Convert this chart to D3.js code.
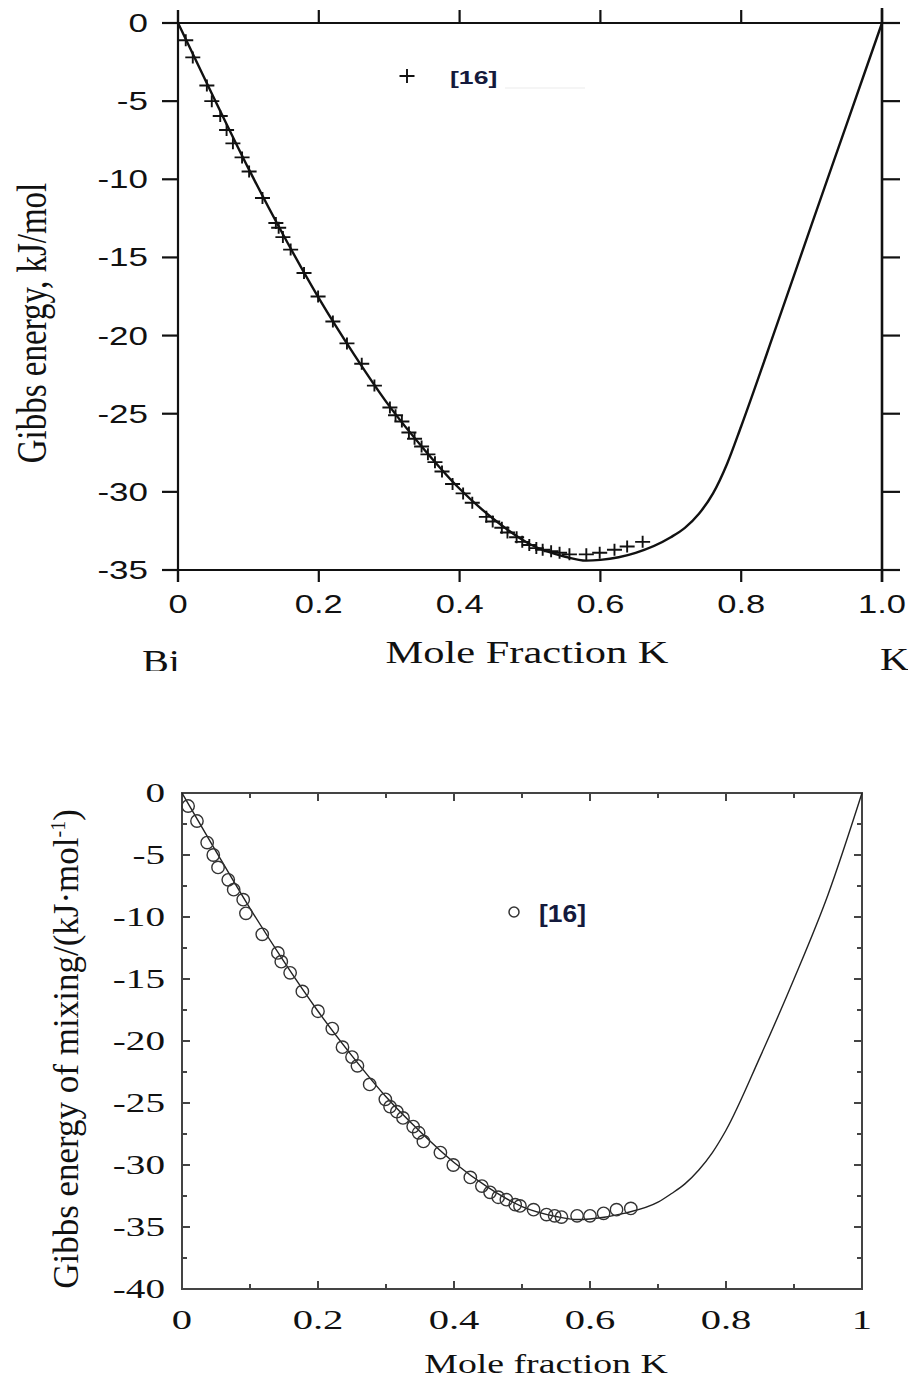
<!DOCTYPE html>
<html>
<head>
<meta charset="utf-8">
<script src="https://cdn.jsdelivr.net/npm/d3@7"></script>
<style>
  html, body { margin: 0; padding: 0; background: #fff; }
  svg { display: block; }
</style>
</head>
<body>
<svg id="fig" width="908" height="1379"></svg>
<script>
// ---- Bi–K liquid: integral Gibbs energy of mixing ----

// Upper panel: calculated curve
const topCurveX = [0, 0.05, 0.1, 0.15, 0.2, 0.25, 0.3, 0.35, 0.4, 0.45, 0.5, 0.55, 0.58, 0.6, 0.65, 0.7, 0.72, 0.74, 0.76, 0.78, 0.8, 0.85, 0.9, 0.95, 1.0];
const topCurveG = [0, -4.7, -9.3, -13.6, -17.6, -21.2, -24.5, -27.3, -29.8, -31.8, -33.35, -34.15, -34.4, -34.35, -33.9, -32.9, -32.3, -31.4, -30.1, -28.2, -25.8, -19.4, -12.9, -6.45, 0];

// Upper panel: experimental points [16]
const topExpX = [0.011, 0.021, 0.041, 0.048, 0.060, 0.069, 0.078, 0.091, 0.101, 0.120, 0.139, 0.143, 0.149, 0.160, 0.179, 0.199, 0.220, 0.240, 0.261, 0.279, 0.301, 0.309, 0.318, 0.328, 0.336, 0.346, 0.355, 0.365, 0.375, 0.390, 0.405, 0.418, 0.438, 0.447, 0.460, 0.468, 0.481, 0.489, 0.499, 0.509, 0.518, 0.530, 0.542, 0.556, 0.580, 0.599, 0.620, 0.638, 0.660];
const topExpG = [-1.1, -2.2, -4.0, -5.0, -5.95, -6.85, -7.7, -8.6, -9.5, -11.2, -12.8, -13.1, -13.7, -14.5, -16.0, -17.5, -19.1, -20.5, -21.8, -23.2, -24.6, -25.1, -25.5, -26.2, -26.6, -27.1, -27.6, -28.1, -28.7, -29.5, -30.1, -30.7, -31.6, -31.9, -32.3, -32.6, -32.9, -33.2, -33.4, -33.6, -33.7, -33.8, -33.9, -34.0, -34.0, -33.9, -33.7, -33.5, -33.2];

const topXTicks = [0, 0.2, 0.4, 0.6, 0.8, 1.0];
const topXTickLabels = ["0", "0.2", "0.4", "0.6", "0.8", "1.0"];
const topYTicks = [0, -5, -10, -15, -20, -25, -30, -35];

// Lower panel: calculated curve
const botCurveX = [0, 0.05, 0.1, 0.15, 0.2, 0.25, 0.3, 0.35, 0.4, 0.45, 0.5, 0.55, 0.58, 0.6, 0.65, 0.7, 0.72, 0.74, 0.76, 0.78, 0.8, 0.85, 0.9, 0.95, 1.0];
const botCurveG = [0, -4.7, -9.3, -13.6, -17.6, -21.2, -24.5, -27.3, -29.8, -31.8, -33.35, -34.15, -34.4, -34.35, -33.9, -33.0, -32.3, -31.5, -30.4, -29.0, -27.2, -21.3, -15.0, -8.2, 0];

// Lower panel: experimental points [16]
const botExpX = [0.009, 0.022, 0.037, 0.046, 0.053, 0.068, 0.076, 0.090, 0.094, 0.118, 0.141, 0.146, 0.159, 0.177, 0.200, 0.221, 0.236, 0.250, 0.258, 0.276, 0.299, 0.306, 0.316, 0.325, 0.340, 0.348, 0.355, 0.380, 0.399, 0.424, 0.441, 0.453, 0.465, 0.477, 0.490, 0.497, 0.517, 0.536, 0.548, 0.558, 0.581, 0.600, 0.620, 0.639, 0.660];
const botExpG = [-1.05, -2.26, -4.0, -5.0, -6.0, -7.0, -7.8, -8.6, -9.7, -11.4, -12.9, -13.6, -14.5, -16.0, -17.6, -19.0, -20.5, -21.3, -22.0, -23.5, -24.7, -25.3, -25.7, -26.2, -26.9, -27.4, -28.1, -29.0, -30.0, -31.0, -31.7, -32.2, -32.6, -32.8, -33.2, -33.3, -33.6, -34.0, -34.1, -34.2, -34.1, -34.1, -33.9, -33.6, -33.5];

const botXMajor = [0, 0.2, 0.4, 0.6, 0.8, 1];
const botXTickLabels = ["0", "0.2", "0.4", "0.6", "0.8", "1"];
const botXMinor = [0.1, 0.3, 0.5, 0.7, 0.9];
const botYMajor = [0, -5, -10, -15, -20, -25, -30, -35, -40];
const botYMinor = [-2.5, -7.5, -12.5, -17.5, -22.5, -27.5, -32.5, -37.5];

const legendLabel = "[16]";

const SERIF = "'Liberation Serif', 'Times New Roman', serif";
const SANS = "'Liberation Sans', Arial, sans-serif";

const svg = d3.select("#fig");

// horizontally stretched text helper
function txt(g, s, x, y, o) {
  return g.append("text")
    .attr("transform", `translate(${x},${y}) scale(${o.sx || 1},1)` + (o.rot ? ` rotate(${o.rot})` : ""))
    .attr("text-anchor", o.anchor || "start")
    .attr("font-family", o.family)
    .attr("font-size", o.size)
    .attr("font-weight", o.weight || "normal")
    .attr("fill", o.fill || "#111")
    .text(s);
}

// ================= Upper panel =================
{
  const g = svg.append("g");
  const x = d3.scaleLinear().domain([0, 1]).range([178, 882]);
  const y = d3.scaleLinear().domain([-35, 0]).range([570, 23]);
  const ax = "#111";

  // frame lines (extend past the corners)
  g.append("line").attr("x1", x(0) - 16).attr("x2", x(1) + 18).attr("y1", y(0)).attr("y2", y(0)).attr("stroke", ax).attr("stroke-width", 2.2);
  g.append("line").attr("x1", x(0) - 16).attr("x2", x(1) + 18).attr("y1", y(-35)).attr("y2", y(-35)).attr("stroke", ax).attr("stroke-width", 2.2);
  g.append("line").attr("x1", x(0)).attr("x2", x(0)).attr("y1", y(0) - 13).attr("y2", y(-35) + 12).attr("stroke", ax).attr("stroke-width", 2.2);
  g.append("line").attr("x1", x(1)).attr("x2", x(1)).attr("y1", y(0) - 15).attr("y2", y(-35) + 12).attr("stroke", ax).attr("stroke-width", 2.6);

  // x ticks: up on top, down on bottom
  g.selectAll(".xt").data(topXTicks).join("line")
    .attr("x1", d => x(d)).attr("x2", d => x(d)).attr("y1", y(0)).attr("y2", y(0) - 13)
    .attr("stroke", ax).attr("stroke-width", 2.2);
  g.selectAll(".xb").data(topXTicks).join("line")
    .attr("x1", d => x(d)).attr("x2", d => x(d)).attr("y1", y(-35)).attr("y2", y(-35) + 12)
    .attr("stroke", ax).attr("stroke-width", 2.2);
  // y ticks: left outward, right outward
  g.selectAll(".yl").data(topYTicks).join("line")
    .attr("x1", x(0) - 16).attr("x2", x(0)).attr("y1", d => y(d)).attr("y2", d => y(d))
    .attr("stroke", ax).attr("stroke-width", 2.2);
  g.selectAll(".yr").data(topYTicks).join("line")
    .attr("x1", x(1)).attr("x2", x(1) + 18).attr("y1", d => y(d)).attr("y2", d => y(d))
    .attr("stroke", ax).attr("stroke-width", 2.2);

  // tick labels
  topXTicks.forEach((d, i) => txt(g, topXTickLabels[i], x(d), 613, { anchor: "middle", family: SANS, size: 25, sx: 1.38 }));
  topYTicks.forEach(d => txt(g, String(d), 148, y(d) + 9, { anchor: "end", family: SANS, size: 25, sx: 1.4 }));

  // axis titles
  txt(g, "Gibbs energy, kJ/mol", 46, 323, { anchor: "middle", family: SERIF, size: 33, sx: 1.3, rot: -90 });
  txt(g, "Mole Fraction K", 527, 663, { anchor: "middle", family: SERIF, size: 31, sx: 1.37 });
  txt(g, "Bi", 142, 672, { family: SERIF, size: 31, sx: 1.3 });
  txt(g, "K", 880, 670, { family: SERIF, size: 31, sx: 1.3 });

  // calculated curve
  const line = d3.line().x(d => x(d[0])).y(d => y(d[1])).curve(d3.curveMonotoneX);
  g.append("path").datum(topCurveX.map((v, i) => [v, topCurveG[i]]))
    .attr("d", line).attr("fill", "none").attr("stroke", "#111").attr("stroke-width", 2.4);

  // experimental crosses
  const plus = (sel, w, h) => sel.append("path")
    .attr("d", `M${-w / 2},0H${w / 2}M0,${-h / 2}V${h / 2}`)
    .attr("stroke", "#111").attr("stroke-width", 1.9).attr("fill", "none");
  const pts = g.selectAll(".pt").data(topExpX.map((v, i) => [v, topExpG[i]])).join("g")
    .attr("transform", d => `translate(${x(d[0])},${y(d[1])})`);
  pts.each(function () { plus(d3.select(this), 15, 12); });

  // legend
  const lg = g.append("g").attr("transform", "translate(407,76)");
  plus(lg, 15, 14);
  txt(g, legendLabel, 450, 84, { family: SANS, size: 19, weight: "bold", sx: 1.4, fill: "#141a3c" });
  g.append("line").attr("x1", 505).attr("x2", 585).attr("y1", 88).attr("y2", 88).attr("stroke", "#ececec").attr("stroke-width", 1.2);

  // the label row is cut off at the panel edge
  g.append("rect").attr("x", 0).attr("y", 671).attr("width", 908).attr("height", 30).attr("fill", "#fff");
}

// ================= Lower panel =================
{
  const g = svg.append("g");
  const x = d3.scaleLinear().domain([0, 1]).range([182, 862]);
  const y = d3.scaleLinear().domain([-40, 0]).range([1289, 793]);
  const ax = "#444";

  // frame
  g.append("rect").attr("x", x(0)).attr("y", y(0)).attr("width", x(1) - x(0)).attr("height", y(-40) - y(0))
    .attr("fill", "none").attr("stroke", ax).attr("stroke-width", 2);

  // inward ticks on all four sides
  const tick = (data, len, orient) => {
    data.forEach(d => {
      if (orient === "x") {
        g.append("line").attr("x1", x(d)).attr("x2", x(d)).attr("y1", y(0)).attr("y2", y(0) + len).attr("stroke", ax).attr("stroke-width", 2);
        g.append("line").attr("x1", x(d)).attr("x2", x(d)).attr("y1", y(-40)).attr("y2", y(-40) - len).attr("stroke", ax).attr("stroke-width", 2);
      } else {
        g.append("line").attr("x1", x(0)).attr("x2", x(0) + len).attr("y1", y(d)).attr("y2", y(d)).attr("stroke", ax).attr("stroke-width", 2);
        g.append("line").attr("x1", x(1)).attr("x2", x(1) - len).attr("y1", y(d)).attr("y2", y(d)).attr("stroke", ax).attr("stroke-width", 2);
      }
    });
  };
  tick(botXMajor, 8, "x");
  tick(botXMinor, 5, "x");
  tick(botYMajor, 8, "y");
  tick(botYMinor, 5, "y");

  // tick labels
  botXMajor.forEach((d, i) => txt(g, botXTickLabels[i], x(d), 1329, { anchor: "middle", family: SERIF, size: 28, sx: 1.45 }));
  botYMajor.forEach(d => txt(g, String(d), 165, y(d) + 9, { anchor: "end", family: SERIF, size: 27, sx: 1.45 }));

  // axis titles
  const yt = g.append("text")
    .attr("transform", "translate(78,1049) rotate(-90)")
    .attr("text-anchor", "middle").attr("font-family", SERIF).attr("font-size", 35).attr("fill", "#111");
  yt.append("tspan").text("Gibbs energy of mixing/(kJ·mol");
  yt.append("tspan").attr("font-size", 20).attr("dy", -13).text("-1");
  yt.append("tspan").attr("dy", 13).text(")");
  txt(g, "Mole fraction K", 546, 1373, { anchor: "middle", family: SERIF, size: 28, sx: 1.35 });

  // calculated curve
  const line = d3.line().x(d => x(d[0])).y(d => y(d[1])).curve(d3.curveMonotoneX);
  g.append("path").datum(botCurveX.map((v, i) => [v, botCurveG[i]]))
    .attr("d", line).attr("fill", "none").attr("stroke", "#222").attr("stroke-width", 1.4);

  // experimental circles
  g.selectAll(".c").data(botExpX.map((v, i) => [v, botExpG[i]])).join("circle")
    .attr("cx", d => x(d[0])).attr("cy", d => y(d[1])).attr("r", 6.2)
    .attr("fill", "none").attr("stroke", "#333").attr("stroke-width", 1.4);

  // legend
  g.append("circle").attr("cx", 514).attr("cy", 912).attr("r", 5).attr("fill", "none").attr("stroke", "#333").attr("stroke-width", 1.5);
  txt(g, legendLabel, 539, 922, { family: SANS, size: 24, weight: "bold", sx: 1.1, fill: "#141a3c" });
}
</script>
</body>
</html>
